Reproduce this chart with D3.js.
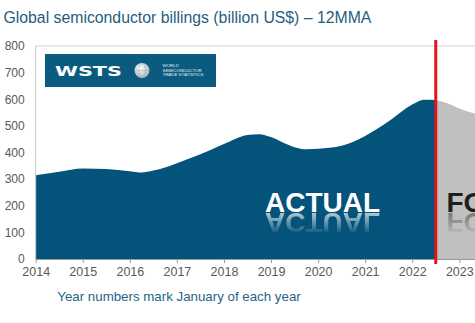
<!DOCTYPE html>
<html>
<head>
<meta charset="utf-8">
<script src="https://cdn.jsdelivr.net/npm/d3@7"></script>
<style>
  html, body { margin: 0; padding: 0; background: #fff; }
  svg { display: block; font-family: Arial, "Liberation Sans", sans-serif; }
</style>
</head>
<body>
<svg id="chart" width="475" height="323"></svg>
<script>
// Global semiconductor billings, 12-month moving average (billion US$)
const actualYears  = [2014.0, 2014.5, 2015.0, 2015.5, 2016.0, 2016.25, 2016.5, 2016.75, 2017.0, 2017.5, 2018.0, 2018.5, 2018.75, 2019.0, 2019.25, 2019.5, 2019.75, 2020.0, 2020.5, 2021.0, 2021.5, 2022.0, 2022.25, 2022.5];
const actualValues = [315, 328, 340, 338, 330, 325, 332, 344, 360, 393, 432, 466, 469, 458, 438, 420, 412, 414, 425, 462, 517, 580, 598, 597];
const forecastYears  = [2022.5, 2022.75, 2023.0, 2023.25, 2023.5, 2023.75];
const forecastValues = [597, 585, 565, 550, 543, 540];
const splitYear = 2022.5;
const yTicks = [0, 100, 200, 300, 400, 500, 600, 700, 800];
const xTicks = [2014, 2015, 2016, 2017, 2018, 2019, 2020, 2021, 2022, 2023];

const svg = d3.select("#chart");
const x = d3.scaleLinear().domain([2014, 2023]).range([35.7, 459.3]);
const y = d3.scaleLinear().domain([0, 800]).range([259, 46]);

const defs = svg.append("defs");
const fade = defs.append("linearGradient").attr("id", "fade")
  .attr("x1", 0).attr("y1", 0).attr("x2", 0).attr("y2", 1);
fade.append("stop").attr("offset", 0).attr("stop-color", "#fff").attr("stop-opacity", 0.7);
fade.append("stop").attr("offset", 1).attr("stop-color", "#fff").attr("stop-opacity", 0);
const globeGrad = defs.append("radialGradient").attr("id", "globe")
  .attr("cx", 0.4).attr("cy", 0.35).attr("r", 0.7);
globeGrad.append("stop").attr("offset", 0).attr("stop-color", "#ffffff");
globeGrad.append("stop").attr("offset", 1).attr("stop-color", "#9fb0bc");

// title
svg.append("text").attr("x", 3.5).attr("y", 23.3)
  .attr("font-size", 15.8).attr("fill", "#1f5e7d")
  .text("Global semiconductor billings (billion US$) \u2013 12MMA");

// areas
const area = d3.area()
  .x(d => x(d[0])).y0(y(0)).y1(d => y(d[1]))
  .curve(d3.curveMonotoneX);
svg.append("path")
  .datum(forecastYears.map((t, i) => [t, forecastValues[i]]))
  .attr("d", area).attr("fill", "#c0c0c0");
svg.append("path")
  .datum(actualYears.map((t, i) => [t, actualValues[i]]))
  .attr("d", area).attr("fill", "#03537a");

// plot frame: top and left
svg.append("line").attr("x1", x(2014)).attr("x2", 475)
  .attr("y1", y(800)).attr("y2", y(800))
  .attr("stroke", "#d4d4d4").attr("stroke-width", 1.2);
svg.append("line").attr("x1", x(2014)).attr("x2", x(2014))
  .attr("y1", y(800)).attr("y2", y(0))
  .attr("stroke", "#c8c8c8").attr("stroke-width", 1);

// y axis
const yAxis = svg.append("g").attr("transform", `translate(${x(2014)},0)`)
  .call(d3.axisLeft(y).tickValues(yTicks).tickSize(0).tickPadding(11));
yAxis.select(".domain").remove();
yAxis.selectAll("text").attr("font-size", 12).attr("fill", "#595959")
  .attr("font-family", "Arial, 'Liberation Sans', sans-serif");

// x axis
const xAxis = svg.append("g").attr("transform", `translate(0,${y(0)})`)
  .call(d3.axisBottom(x).tickValues(xTicks).tickFormat(d3.format("d")).tickSize(4).tickPadding(4));
xAxis.select(".domain").attr("d", `M${x(2014)},0.5H475`).attr("stroke", "#9a9a9a");
xAxis.selectAll(".tick line").attr("stroke", "#9a9a9a");
xAxis.selectAll("text").attr("font-size", 12.5).attr("fill", "#595959")
  .attr("font-family", "Arial, 'Liberation Sans', sans-serif");

// region labels with mirrored reflections
function reflectedLabel(label, lx, baseline, color, reflColor) {
  svg.append("text").attr("x", lx).attr("y", baseline)
    .attr("font-size", 28).attr("font-weight", "bold").attr("fill", color)
    .text(label);
  const id = "m" + label;
  const mask = defs.append("mask").attr("id", id).attr("maskUnits", "userSpaceOnUse")
    .attr("x", 0).attr("y", baseline).attr("width", 475).attr("height", 24);
  mask.append("rect").attr("x", 0).attr("y", baseline + 1).attr("width", 475).attr("height", 22)
    .attr("fill", "url(#fade)");
  svg.append("g").attr("mask", `url(#${id})`)
    .append("text").attr("x", lx).attr("y", baseline)
    .attr("transform", `translate(0,${2 * baseline + 1}) scale(1,-1)`)
    .attr("font-size", 28).attr("font-weight", "bold").attr("fill", reflColor)
    .text(label);
}
reflectedLabel("ACTUAL", 265, 211.7, "#ffffff", "#ffffff");
reflectedLabel("FORECAST", 446.5, 211.7, "#1e1e1e", "#555555");

// split marker between actual and forecast
svg.append("line").attr("x1", x(splitYear)).attr("x2", x(splitYear))
  .attr("y1", 40).attr("y2", 264)
  .attr("stroke", "#e4141c").attr("stroke-width", 3);

// logo
const logo = svg.append("g");
logo.append("rect").attr("x", 45).attr("y", 54).attr("width", 171).attr("height", 33)
  .attr("fill", "#0b5b80");
logo.append("text").attr("x", 55).attr("y", 75.5)
  .attr("font-size", 14.5).attr("font-weight", "bold").attr("fill", "#ffffff")
  .attr("font-family", "'DejaVu Sans', sans-serif")
  .attr("textLength", 67).attr("lengthAdjust", "spacingAndGlyphs")
  .text("WSTS");
logo.append("circle").attr("cx", 142).attr("cy", 70.5).attr("r", 7.5)
  .attr("fill", "url(#globe)");
logo.append("ellipse").attr("cx", 142).attr("cy", 70.5).attr("rx", 3.2).attr("ry", 7.5)
  .attr("fill", "none").attr("stroke", "#9aaab6").attr("stroke-width", 0.5);
logo.append("line").attr("x1", 134.5).attr("x2", 149.5).attr("y1", 70.5).attr("y2", 70.5)
  .attr("stroke", "#9aaab6").attr("stroke-width", 0.5);
["WORLD", "SEMICONDUCTOR", "TRADE STATISTICS"].forEach((s, i) => {
  logo.append("text").attr("x", 162.5).attr("y", 67.3 + i * 4.4)
    .attr("font-size", 4.4).attr("fill", "#e8eef2").text(s);
});

// footnote
svg.append("text").attr("x", 57.3).attr("y", 300.5)
  .attr("font-size", 13.3).attr("fill", "#1f6586")
  .text("Year numbers mark January of each year");
</script>
</body>
</html>
